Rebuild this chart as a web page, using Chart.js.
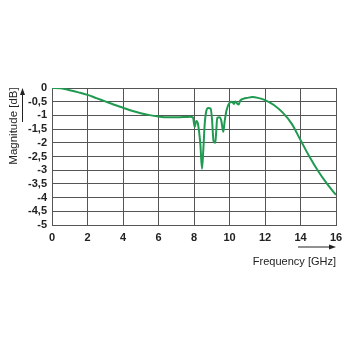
<!DOCTYPE html>
<html>
<head>
<meta charset="utf-8">
<script src="https://cdn.jsdelivr.net/npm/chart.js@4/dist/chart.umd.min.js"></script>
<style>
  html, body { margin: 0; padding: 0; background: #fff; }
  #wrap { width: 350px; height: 350px; }
</style>
</head>
<body>
<div id="wrap"><canvas id="magChart"></canvas></div>
<script>
// frequency in GHz, magnitude in dB
const freqGHz = [
  0, 0.5, 1, 1.5, 2, 2.5, 3, 3.5, 4, 4.5, 5, 5.5, 6, 6.5, 7, 7.5, 7.8,
  7.94, 8.04, 8.13, 8.22, 8.36, 8.45, 8.53, 8.6, 8.69, 8.8, 8.94,
  9.01, 9.1, 9.2, 9.25, 9.31, 9.43, 9.54, 9.65, 9.73, 9.84,
  10.0, 10.14, 10.25, 10.33, 10.44, 10.52, 10.6, 10.8, 11.0, 11.3, 11.6,
  12, 12.5, 13, 13.5, 14, 14.5, 15, 15.5, 16
];
const magnitudeDb = [
  0, -0.01, -0.08, -0.16, -0.25, -0.37, -0.49, -0.61, -0.72, -0.83, -0.92, -0.99, -1.04, -1.07, -1.07, -1.06, -1.05,
  -1.07, -1.42, -1.2, -1.3, -2.07, -2.95, -2.2, -1.34, -0.85, -0.73, -0.75,
  -1.1, -1.93, -2.0, -1.6, -1.09, -1.07, -1.2, -1.6, -1.2, -0.79,
  -0.54, -0.5, -0.58, -0.49, -0.57, -0.6, -0.46, -0.39, -0.36, -0.33, -0.36,
  -0.44, -0.62, -0.9, -1.3, -1.9, -2.5, -3.04, -3.5, -3.9
];
const xTicks = [0, 2, 4, 6, 8, 10, 12, 14, 16];
const yTicks = [0, -0.5, -1, -1.5, -2, -2.5, -3, -3.5, -4, -4.5, -5];

const xTitle = "Frequency [GHz]";
const yTitle = "Magnitude [dB]";

const textColor = "#222";
const gridColor = "#555";
const lineColor = "#1f9a50";

function arrow(ctx, x1, y1, x2, y2) {
  const ang = Math.atan2(y2 - y1, x2 - x1);
  const len = 7, half = 2.5;
  ctx.beginPath();
  ctx.moveTo(x1, y1);
  ctx.lineTo(x2 - Math.cos(ang) * len, y2 - Math.sin(ang) * len);
  ctx.stroke();
  ctx.beginPath();
  ctx.moveTo(x2, y2);
  ctx.lineTo(x2 - Math.cos(ang) * len - Math.sin(ang) * half, y2 - Math.sin(ang) * len + Math.cos(ang) * half);
  ctx.lineTo(x2 - Math.cos(ang) * len + Math.sin(ang) * half, y2 - Math.sin(ang) * len - Math.cos(ang) * half);
  ctx.closePath();
  ctx.fill();
}

// axis titles with their arrows
const axisTitles = {
  id: "axisTitles",
  afterDraw(chart) {
    const ctx = chart.ctx;
    const area = chart.chartArea;
    ctx.save();
    ctx.fillStyle = textColor;
    ctx.strokeStyle = textColor;
    ctx.lineWidth = 1;
    ctx.font = "11px 'Liberation Sans', Arial, sans-serif";

    // x title, right aligned under the plot
    ctx.textAlign = "right";
    ctx.textBaseline = "alphabetic";
    ctx.fillText(xTitle, area.right, 265);
    arrow(ctx, area.right - 38, 247, area.right, 247);

    // y title, rotated
    ctx.font = "11.5px 'Liberation Sans', Arial, sans-serif";
    ctx.translate(17, 126);
    ctx.rotate(-Math.PI / 2);
    ctx.textAlign = "center";
    ctx.fillText(yTitle, 0, 0);
    ctx.restore();

    ctx.save();
    ctx.fillStyle = textColor;
    ctx.strokeStyle = textColor;
    ctx.lineWidth = 1;
    arrow(ctx, 22.5, 122, 22.5, 88);
    ctx.restore();
  }
};

document.addEventListener("DOMContentLoaded", () => {
  const ctx = document.getElementById("magChart").getContext("2d");
  const points = freqGHz.map((f, i) => ({ x: f, y: magnitudeDb[i] }));

  new Chart(ctx, {
    type: "line",
    data: {
      datasets: [
        {
          data: points,
          borderColor: lineColor,
          borderWidth: 2,
          pointRadius: 0,
          fill: false,
          cubicInterpolationMode: "monotone",
        },
      ],
    },
    options: {
      responsive: true,
      maintainAspectRatio: false,
      animation: false,
      layout: { padding: { top: 88, right: 14, left: 0, bottom: 0 } },
      plugins: { legend: { display: false }, tooltip: { enabled: false } },
      scales: {
        x: {
          type: "linear",
          min: 0,
          max: 16,
          afterBuildTicks: (s) => { s.ticks = xTicks.map((v) => ({ value: v })); },
          afterFit: (s) => { s.height = 125; },
          grid: { color: gridColor, lineWidth: 1, tickLength: 0 },
          border: { color: gridColor },
          ticks: {
            color: textColor,
            padding: 6,
            maxRotation: 0,
            autoSkip: false,
            font: { family: "'Liberation Sans', Arial, sans-serif", size: 11, weight: "bold" },
          },
        },
        y: {
          min: -5,
          max: 0,
          afterBuildTicks: (s) => { s.ticks = yTicks.map((v) => ({ value: v })); },
          afterFit: (s) => { s.width = 52; },
          grid: { color: gridColor, lineWidth: 1, tickLength: 0 },
          border: { color: gridColor },
          ticks: {
            color: textColor,
            padding: 5,
            autoSkip: false,
            font: { family: "'Liberation Sans', Arial, sans-serif", size: 11, weight: "bold" },
            callback: (v) => String(v).replace(".", ","),
          },
        },
      },
    },
    plugins: [axisTitles],
  });
});
</script>
</body>
</html>
